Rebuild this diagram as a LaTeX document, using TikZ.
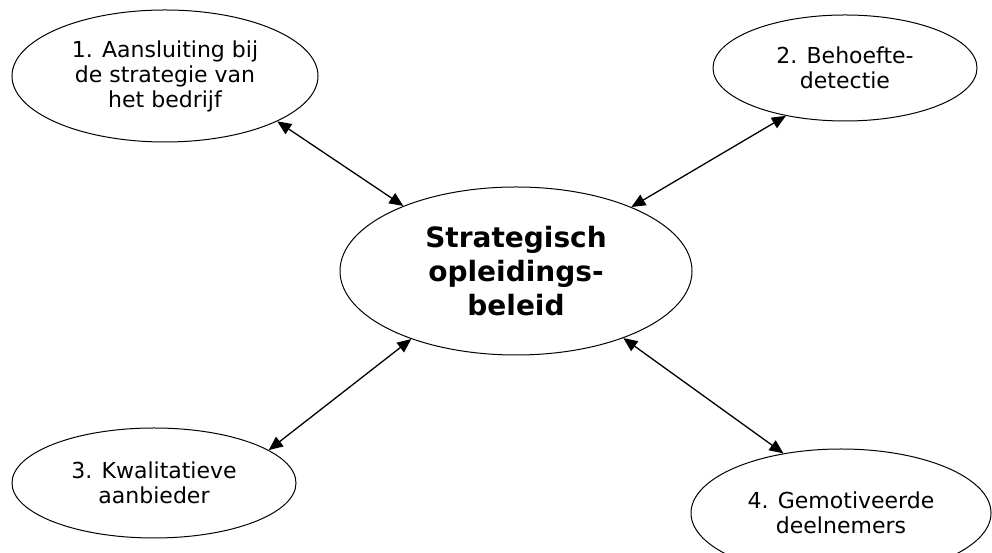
\documentclass[tikz,border=0pt]{standalone}
\usepackage{fontspec}
\setmainfont{DejaVu Sans}
\usetikzlibrary{arrows.meta, shapes.geometric}

\begin{document}
\begin{tikzpicture}[
    x=1pt, y=1pt,
    topic/.style={draw, ellipse, inner sep=0pt, line width=1pt, align=center, font=\fontsize{22}{25}\selectfont},
    core/.style={topic, font=\bfseries\fontsize{28}{34}\selectfont},
    arrow/.style={{Triangle[length=14pt, width=12pt]}-{Triangle[length=14pt, width=12pt]}, line width=1.3pt}
]
\useasboundingbox (0,0) rectangle (992,553);

% Kern
\node[core, minimum width=352pt, minimum height=168pt] (centre) at (516,282) {Strategisch\\opleidings-\\beleid};

% Vier pijlers
\node[topic, minimum width=306pt, minimum height=132pt] (strategy) at (165,477) {1. Aansluiting bij\\de strategie van\\het bedrijf};
\node[topic, minimum width=264pt, minimum height=106pt] (needs) at (845,485) {2. Behoefte-\\detectie};
\node[topic, minimum width=284pt, minimum height=110pt] (supplier) at (154,70) {3. Kwalitatieve\\aanbieder};
\node[topic, minimum width=300pt, minimum height=128pt] (learners) at (841,40) {4. Gemotiveerde\\deelnemers};

% Pijlen
\foreach \i/\j in {strategy.-22/centre.150, centre.29/needs.219,
                  centre.213/supplier.16, centre.-32/learners.134}
    \draw[arrow] (\i) -- (\j);

\end{tikzpicture}
\end{document}
